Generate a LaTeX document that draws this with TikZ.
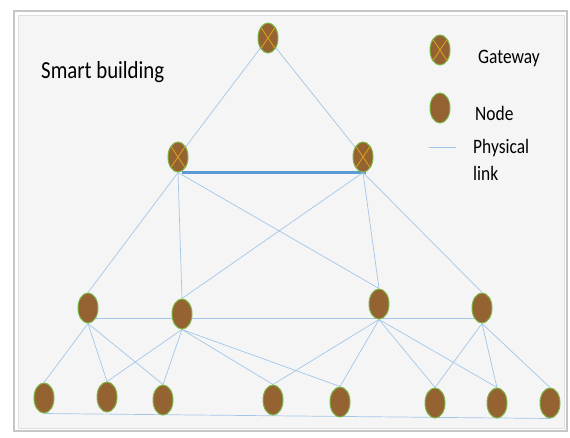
\documentclass[tikz,border=0pt]{standalone}
\usepackage{fontspec}
\setmainfont[FakeStretch=0.85]{Carlito}
\usetikzlibrary{shapes.geometric}
\usepackage{xcolor}
\definecolor{NodeBrown}{HTML}{956232}
\definecolor{NodeGreen}{HTML}{7CB546}
\definecolor{CrossGold}{HTML}{D2A21C}
\definecolor{LinkBlue}{HTML}{A3C6E8}
\definecolor{TrunkBlue}{HTML}{5B9BD5}
\definecolor{PanelGray}{HTML}{F5F5F5}
\pgfdeclarelayer{bg}
\pgfsetlayers{bg,main}

\begin{document}
\begin{tikzpicture}[x=1pt, y=-1pt,
        every node/.style={font=\fontsize{20.5}{27}\selectfont, inner sep=0pt},
        sensor/.style={draw=NodeGreen, line width=1pt, fill=NodeBrown, ellipse, minimum width=20pt, minimum height=30pt},
        gate/.style={sensor, path picture={\draw[CrossGold, line width=0.9pt] (path picture bounding box.north west) -- (path picture bounding box.south east) (path picture bounding box.north east) -- (path picture bounding box.south west);}},
        link/.style={LinkBlue, line width=0.7pt},
        trunk/.style={TrunkBlue, line width=2.6pt}]
    \useasboundingbox (0,0) rectangle (570,437);

    % Gateways
    \node[gate] (g0) at (268,38) {};
    \node[gate] (g1) at (178,157) {};
    \node[gate] (g2) at (363,157) {};

    % Middle nodes
    \node[sensor] (m1) at (88,308) {};
    \node[sensor] (m2) at (182,314) {};
    \node[sensor] (m3) at (379,304) {};
    \node[sensor] (m4) at (482,308) {};

    % Bottom nodes
    \node[sensor] (b1) at (44,398) {};
    \node[sensor] (b2) at (107,397) {};
    \node[sensor] (b3) at (163,400) {};
    \node[sensor] (b4) at (273,400) {};
    \node[sensor] (b5) at (340,402) {};
    \node[sensor] (b6) at (435,403) {};
    \node[sensor] (b7) at (497,403) {};
    \node[sensor] (b8) at (550,403) {};

    % Title and legend
    \node[anchor=base west, font=\fontsize{24.5}{29}\selectfont] (title) at (41,78) {Smart building};
    \node[gate] (lgate) at (440,50) {};
    \node[anchor=base west] (tgate) at (478,63) {Gateway};
    \node[sensor] (lnode) at (440,108) {};
    \node[anchor=base west] (tnode) at (475,120) {Node};
    \coordinate (la) at (429,147);
    \coordinate (lb) at (456,147);
    \node[anchor=base west, align=left] (tlink) at (473,180) {Physical\\link};

    \begin{pgfonlayer}{bg}
    % Frame
    \draw[gray!45, line width=1.2pt, fill=white] (14,11) rectangle (567,431);
    \draw[gray!25, line width=0.8pt, fill=PanelGray] (18,15) rectangle (564,428);

    % Lines
    \draw[link] (la) -- (lb);
    \draw[link] (g0) -- (g1);
    \draw[link] (g0) -- (g2);
    \draw[trunk] ([xshift=4pt]g1.south) -- ([xshift=3pt]g2.south);
    \draw[link] (g1.south) -- (m1.north);
    \draw[link] (g1.south) -- (m2.north);
    \draw[link] (g1.south) -- (m3.north);
    \draw[link] (g2.south) -- (m2.north);
    \draw[link] (g2.south) -- (m3.north);
    \draw[link] (g2.south) -- (m4.north);
    \draw[link] (m1.-55) -- (m4.-125);
    \draw[link] (m1.south) -- (b1.north);
    \draw[link] (m1.south) -- (b2.north);
    \draw[link] (m1.south) -- (b3.north);
    \draw[link] (m2.south) -- (b2.north);
    \draw[link] (m2.south) -- (b3.north);
    \draw[link] (m2.south) -- (b4.north);
    \draw[link] (m2.south) -- (b5.north);
    \draw[link] (m3.south) -- (b4.north);
    \draw[link] (m3.south) -- (b5.north);
    \draw[link] (m3.south) -- (b6.north);
    \draw[link] (m3.south) -- (b7.north);
    \draw[link] (m4.south) -- (b6.north);
    \draw[link] (m4.south) -- (b7.north);
    \draw[link] (m4.south) -- (b8.north);
    \draw[link] (b1.south) -- (b8.south);
    \end{pgfonlayer}
\end{tikzpicture}
\end{document}
